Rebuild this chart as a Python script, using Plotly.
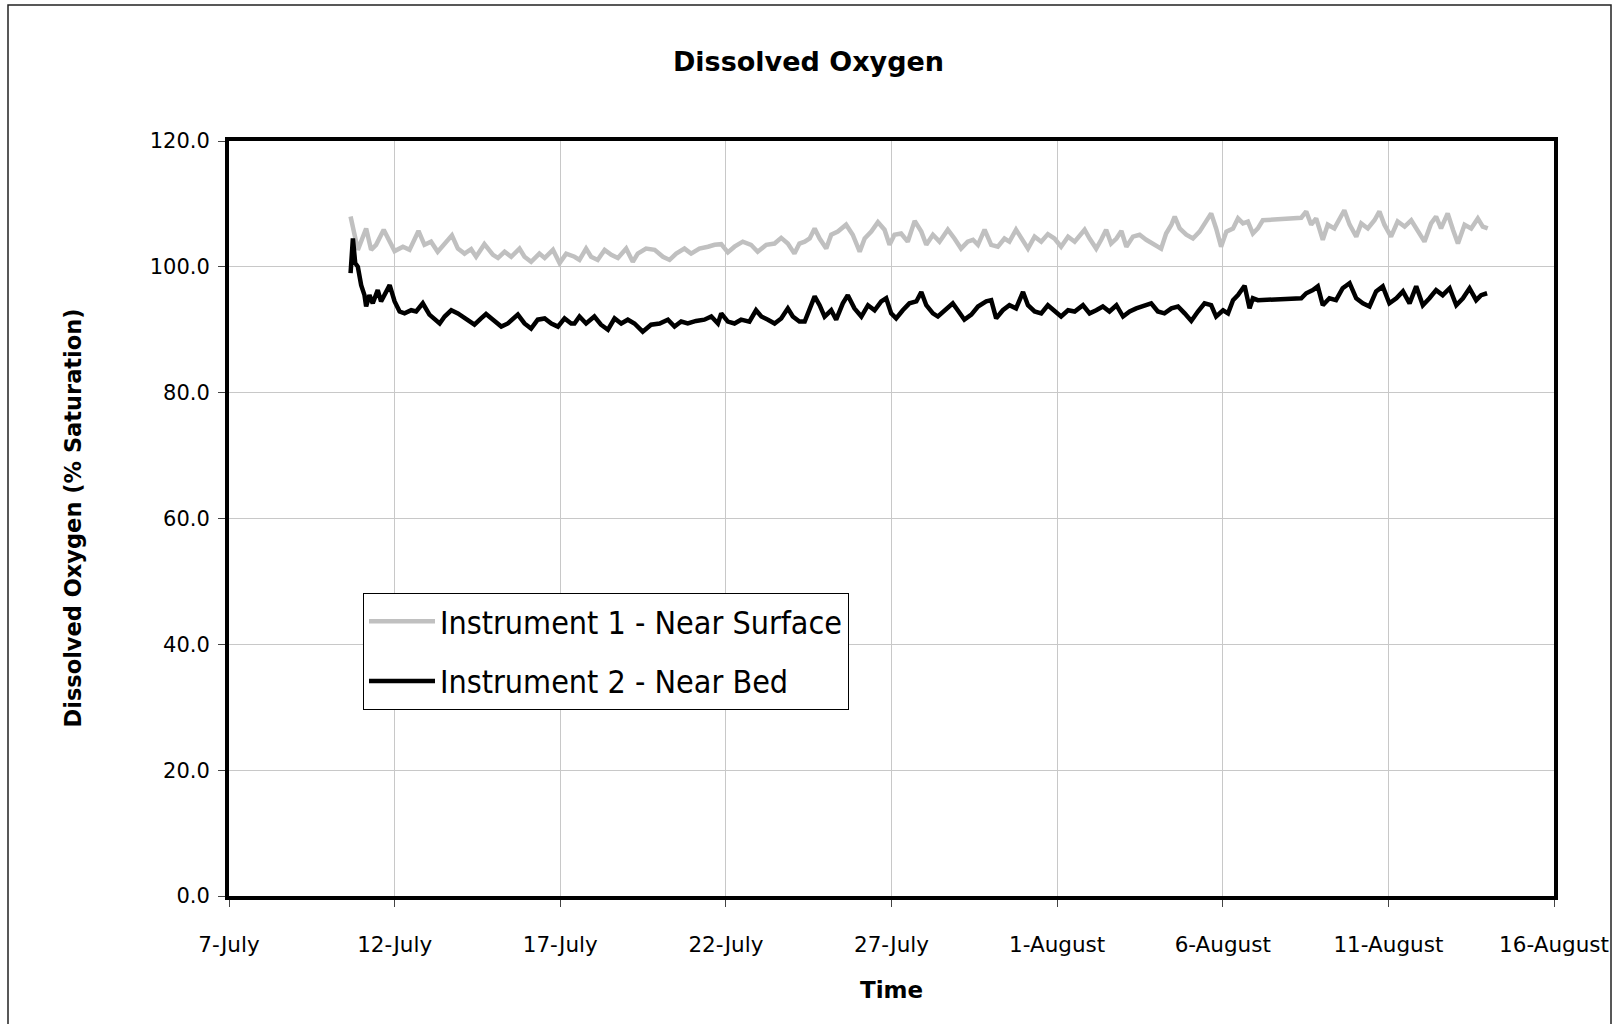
import pandas as pd
import plotly.graph_objects as go

# ---- data: days after 7 July, dissolved oxygen (% saturation) ----
surface_day = [3.67, 3.89, 4.14, 4.29, 4.44, 4.67, 5.00, 5.25, 5.45, 5.72, 5.90, 6.10, 6.30, 6.51, 6.73, 6.91,
               7.11, 7.31, 7.46, 7.71, 7.97, 8.12, 8.32, 8.52, 8.77, 8.92, 9.12, 9.37, 9.53, 9.78, 9.98, 10.18,
               10.43, 10.58, 10.78, 10.93, 11.13, 11.34, 11.54, 11.74, 11.99, 12.19, 12.34, 12.59, 12.85, 13.10,
               13.30, 13.50, 13.75, 13.95, 14.20, 14.46, 14.66, 14.86, 15.06, 15.26, 15.51, 15.76, 15.96, 16.22,
               16.47, 16.67, 16.87, 17.07, 17.22, 17.38, 17.53, 17.68, 17.83, 18.03, 18.18, 18.38, 18.63, 18.83,
               19.04, 19.19, 19.39, 19.59, 19.79, 19.94, 20.09, 20.29, 20.49, 20.70, 20.90, 21.05, 21.25, 21.45,
               21.70, 21.90, 22.10, 22.30, 22.46, 22.61, 22.81, 23.01, 23.21, 23.41, 23.56, 23.76, 23.92, 24.12,
               24.32, 24.52, 24.72, 24.92, 25.12, 25.33, 25.53, 25.83, 25.98, 26.18, 26.33, 26.48, 26.63, 26.79,
               26.94, 27.09, 27.29, 27.49, 27.69, 27.89, 28.14, 28.29, 28.45, 28.55, 28.70, 28.90, 29.10, 29.30,
               29.50, 29.65, 29.80, 29.95, 30.11, 30.31, 30.46, 30.61, 30.76, 30.91, 31.06, 31.21,
               32.37, 32.52, 32.67, 32.82, 33.02, 33.17, 33.37, 33.52, 33.67, 33.83, 34.03, 34.18, 34.38, 34.58,
               34.73, 34.88, 35.08, 35.28, 35.49, 35.69, 35.89, 36.09, 36.29, 36.44, 36.59, 36.79, 36.95, 37.10,
               37.30, 37.50, 37.70, 37.85, 38.00]
surface_do = [108.0, 102.7, 106.1, 102.7, 103.5, 105.9, 102.5, 103.2, 102.7, 105.7, 103.5, 104.0, 102.4, 103.7, 105.0, 102.9,
              102.1, 102.8, 101.6, 103.6, 101.9, 101.4, 102.4, 101.6, 102.9, 101.6, 100.8, 102.1, 101.4, 102.7, 100.6, 102.1,
              101.6, 101.1, 102.9, 101.6, 101.1, 102.7, 101.9, 101.4, 102.9, 100.8, 102.1, 102.9, 102.7, 101.6,
              101.1, 102.1, 102.9, 102.1, 102.9, 103.2, 103.5, 103.6, 102.3, 103.2, 104.0, 103.5, 102.4, 103.5,
              103.7, 104.6, 103.7, 102.1, 103.7, 104.0, 104.5, 106.1, 104.5, 102.9, 105.1, 105.6, 106.7, 105.1,
              102.4, 104.5, 105.6, 107.1, 105.9, 103.5, 105.1, 105.3, 104.0, 107.3, 105.6, 103.5, 105.1, 104.0,
              105.9, 104.5, 102.9, 104.0, 104.3, 103.5, 105.9, 103.5, 103.2, 104.5, 104.0, 105.9, 104.5, 102.9,
              104.8, 104.0, 105.2, 104.5, 103.2, 104.8, 104.0, 105.9, 104.5, 102.9, 104.3, 105.9, 103.7, 104.5,
              105.7, 103.2, 104.8, 105.1, 104.3, 103.7, 102.9, 105.3, 106.7, 108.0, 106.1, 105.1, 104.5, 105.6,
              107.2, 108.5, 106.1, 103.2, 105.6, 106.1, 107.7, 106.9, 107.2, 105.3, 106.1, 107.4,
              107.8, 108.8, 106.7, 107.7, 104.3, 106.7, 106.1, 107.4, 109.0, 106.7, 104.8, 106.9, 106.1, 107.4,
              108.8, 106.7, 104.8, 107.2, 106.4, 107.4, 105.6, 104.0, 106.9, 108.0, 106.1, 108.5, 105.9, 103.7,
              106.7, 106.1, 107.7, 106.4, 106.1]

bed_day = [3.67, 3.74, 3.81, 3.89, 3.99, 4.09, 4.14, 4.24, 4.34, 4.49, 4.59, 4.69, 4.85, 5.00, 5.15, 5.30,
           5.50, 5.65, 5.85, 6.05, 6.20, 6.36, 6.51, 6.71, 6.91, 7.06, 7.26, 7.41, 7.61, 7.76, 7.97, 8.22,
           8.42, 8.57, 8.72, 8.92, 9.12, 9.32, 9.53, 9.73, 9.93, 10.13, 10.33, 10.43, 10.58, 10.78, 11.03,
           11.23, 11.44, 11.64, 11.84, 12.04, 12.24, 12.49, 12.74, 13.00, 13.25, 13.45, 13.65, 13.85, 14.10,
           14.35, 14.56, 14.76, 14.86, 15.06, 15.26, 15.46, 15.71, 15.91, 16.07, 16.27, 16.47, 16.67, 16.87,
           17.02, 17.22, 17.38, 17.53, 17.68, 17.83, 17.98, 18.18, 18.33, 18.53, 18.68, 18.88, 19.09, 19.29,
           19.49, 19.69, 19.84, 19.99, 20.14, 20.34, 20.54, 20.75, 20.90, 21.05, 21.25, 21.40, 21.60, 21.85,
           22.00, 22.20, 22.41, 22.61, 22.86, 23.01, 23.16, 23.36, 23.56, 23.76, 23.97, 24.12, 24.32, 24.52,
           24.72, 24.92, 25.12, 25.33, 25.53, 25.78, 25.98, 26.18, 26.38, 26.58, 26.79, 26.99, 27.19, 27.39,
           27.59, 27.84, 28.04, 28.24, 28.45, 28.65, 28.85, 29.05, 29.25, 29.45, 29.65, 29.80, 30.01, 30.16,
           30.31, 30.46, 30.66, 30.81, 30.91, 31.06,
           32.37, 32.52, 32.72, 32.87, 33.02, 33.22, 33.42, 33.62, 33.83, 34.03, 34.23, 34.43, 34.63, 34.83,
           35.03, 35.24, 35.44, 35.64, 35.84, 36.04, 36.24, 36.44, 36.64, 36.85, 37.05, 37.25, 37.45, 37.65,
           37.80, 37.98]
bed_do = [99.0, 104.5, 100.6, 100.0, 97.1, 95.5, 93.7, 95.5, 94.2, 96.3, 94.5, 95.5, 97.1, 94.5, 92.9, 92.6,
          93.1, 92.9, 94.2, 92.4, 91.6, 91.0, 92.1, 93.1, 92.6, 92.1, 91.3, 90.8, 91.8, 92.5, 91.6, 90.5,
          91.0, 91.6, 92.4, 91.0, 90.2, 91.6, 91.8, 91.0, 90.5, 91.8, 91.0, 91.0, 92.1, 91.0, 92.1,
          90.8, 90.0, 91.8, 91.0, 91.6, 91.0, 89.7, 90.8, 91.0, 91.6, 90.5, 91.3, 91.0, 91.4,
          91.6, 92.1, 91.0, 92.6, 91.3, 91.0, 91.6, 91.3, 93.1, 92.1, 91.6, 91.0, 91.8, 93.4,
          92.1, 91.3, 91.3, 93.1, 95.3, 93.9, 92.1, 93.1, 91.6, 94.2, 95.5, 93.4, 92.1, 93.9,
          93.1, 94.5, 95.0, 92.6, 91.8, 93.1, 94.2, 94.5, 96.0, 93.9, 92.6, 92.1, 93.1, 94.2,
          93.1, 91.6, 92.4, 93.7, 94.5, 94.7, 91.8, 93.1, 93.9, 93.4, 96.0, 93.9, 92.9, 92.6,
          93.9, 93.1, 92.1, 93.1, 92.9, 93.9, 92.6, 93.1, 93.7, 92.9, 93.9, 92.1, 92.9, 93.4,
          93.7, 94.2, 92.9, 92.6, 93.4, 93.7, 92.6, 91.4, 92.9, 94.2, 93.9, 92.1, 93.1, 92.6,
          94.7, 95.5, 97.0, 93.4, 95.0, 94.7,
          95.0, 95.8, 96.3, 96.9, 93.9, 95.0, 94.7, 96.6, 97.4, 95.0, 94.2, 93.7, 96.1, 96.9,
          94.2, 95.0, 96.1, 94.2, 96.9, 93.9, 95.0, 96.3, 95.5, 96.6, 93.9, 95.0, 96.6, 94.7,
          95.5, 95.8]

tick_text = ["7-July", "12-July", "17-July", "22-July", "27-July",
             "1-August", "6-August", "11-August", "16-August"]

base = pd.Timestamp("2005-07-07")
surface_x = base + pd.to_timedelta(surface_day, unit="D")
bed_x = base + pd.to_timedelta(bed_day, unit="D")
tick_vals = pd.date_range(base, periods=len(tick_text), freq="5D")

FONT = "'DejaVu Sans', Tahoma, sans-serif"
FONT_C = "'DejaVu Sans Condensed', Tahoma, 'DejaVu Sans', sans-serif"

fig = go.Figure()
fig.add_trace(go.Scatter(x=surface_x, y=surface_do, mode="lines",
                         name="Instrument 1 - Near Surface", legendgroup="a",
                         line=dict(color="#c0c0c0", width=4.5)))
fig.add_trace(go.Scatter(x=bed_x, y=bed_do, mode="lines",
                         name="Instrument 2 - Near Bed", legendgroup="b",
                         line=dict(color="#000000", width=4.5)))

L, R, T, B = 229, 63, 141, 128
W, H = 1617, 1024
pw, ph = W - L - R, H - T - B

def px(xp):
    return (xp - L) / pw

def py(yp):
    return (H - B - yp) / ph

fig.update_layout(
    width=W, height=H,
    margin=dict(l=L, r=R, t=T, b=B, autoexpand=False),
    paper_bgcolor="white", plot_bgcolor="white",
    font=dict(family=FONT, color="black", size=21),
    title=dict(text="<b>Dissolved Oxygen</b>", x=0.5, xref="container", xanchor="center",
               y=1 - 62 / H, yref="container", yanchor="middle",
               font=dict(size=27, family=FONT, color="black")),
    showlegend=True,
    legend=dict(x=px(363), y=py(593), xanchor="left", yanchor="top",
                bgcolor="white", bordercolor="black", borderwidth=1,
                font=dict(size=32, family=FONT_C, color="black"),
                tracegroupgap=15, itemwidth=66),
    xaxis=dict(type="date", range=[base, base + pd.Timedelta(days=40)],
               tickvals=tick_vals, ticktext=tick_text, automargin=False,
               showgrid=True, gridcolor="#c8c8c8", gridwidth=1,
               showline=True, linecolor="black", linewidth=4, mirror=True,
               ticks="outside", ticklen=7, tickwidth=1, tickcolor="#444",
               ticklabelstandoff=19, zeroline=False,
               tickfont=dict(size=21.5, family=FONT, color="black")),
    yaxis=dict(range=[0, 120], tickmode="linear", tick0=0, dtick=20, tickformat=".1f",
               automargin=False,
               showgrid=True, gridcolor="#c8c8c8", gridwidth=1,
               showline=True, linecolor="black", linewidth=4, mirror=True,
               ticks="outside", ticklen=7, tickwidth=1, tickcolor="#444",
               ticklabelstandoff=4, zeroline=False,
               tickfont=dict(size=21, family=FONT, color="black")),
    annotations=[
        dict(text="<b>Time</b>", xref="paper", yref="paper", x=0.5, y=py(990),
             xanchor="center", yanchor="middle", showarrow=False,
             font=dict(size=23, family=FONT, color="black")),
        dict(text="<b>Dissolved Oxygen (% Saturation)</b>", xref="paper", yref="paper",
             x=px(72), y=0.5, xanchor="center", yanchor="middle", textangle=-90,
             showarrow=False, font=dict(size=22.5, family=FONT, color="black")),
    ],
    shapes=[dict(type="rect", xref="paper", yref="paper",
                 x0=px(8), x1=px(1611), y0=py(1040), y1=py(5),
                 line=dict(color="#222", width=1.5), fillcolor="rgba(0,0,0,0)", layer="below")],
)

fig.write_html("out.html")
